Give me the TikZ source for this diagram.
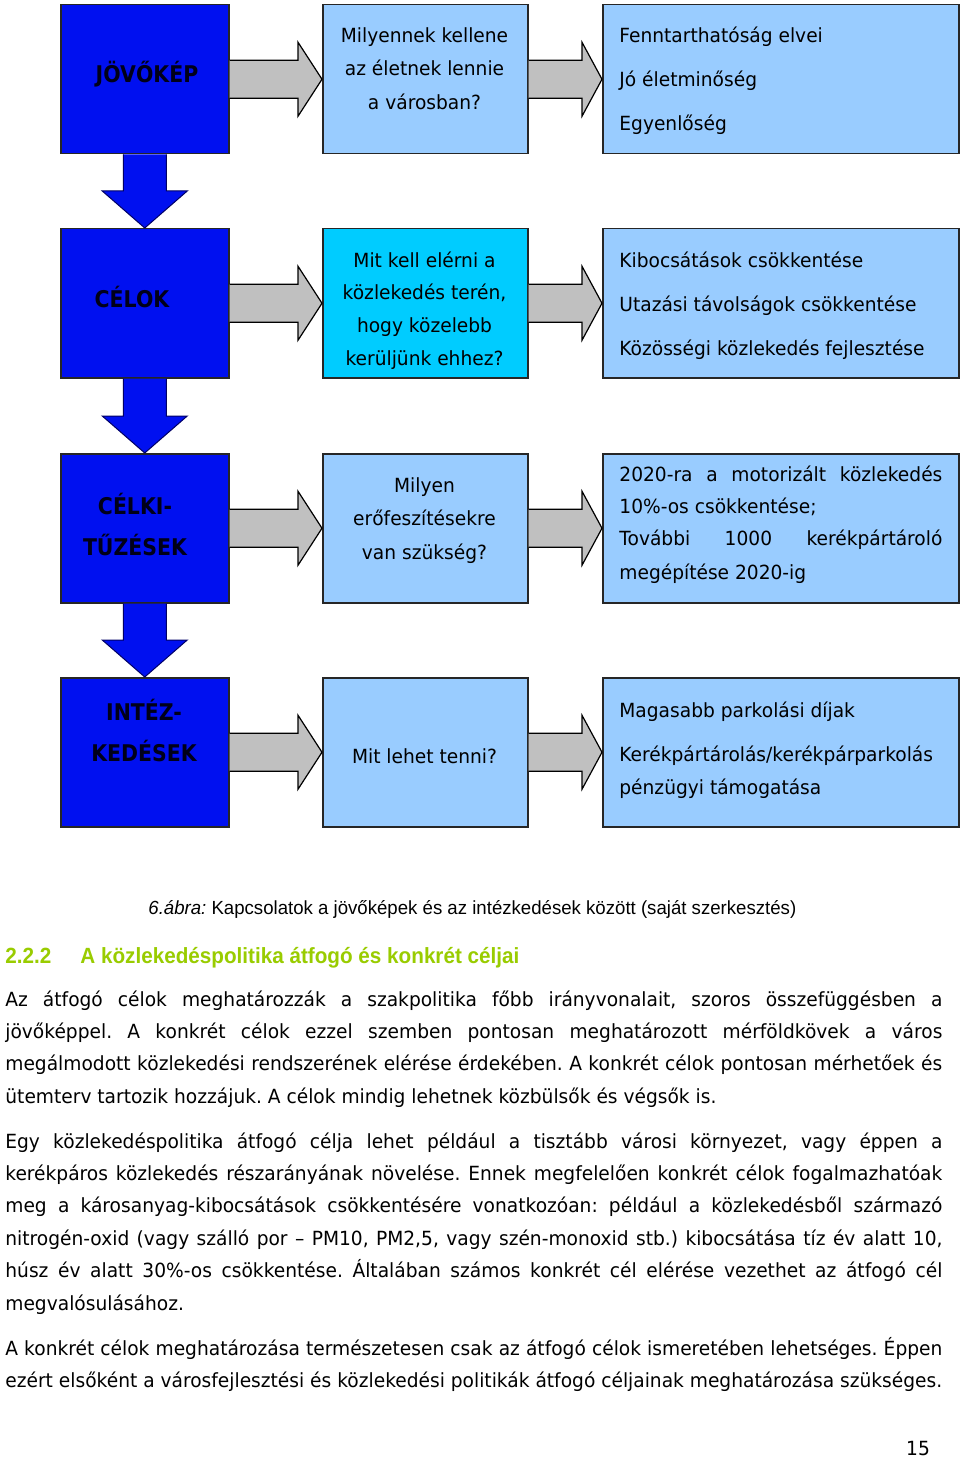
\documentclass[tikz,border=0pt]{standalone}
\usepackage{fontspec}
\usetikzlibrary{calc}
\newfontfamily\tah{DejaVu Sans}[FakeStretch=0.955]
\newfontfamily\tahb{DejaVu Sans}[FakeStretch=0.89]
\newfontfamily\ari{Liberation Sans}[FakeStretch=0.98]
\newfontfamily\arih{Liberation Sans}[FakeStretch=0.94]
\definecolor{dblue}{RGB}{0,16,240}
\definecolor{lblue}{RGB}{153,204,255}
\definecolor{cblue}{RGB}{0,204,255}
\definecolor{agray}{RGB}{192,192,192}
\definecolor{hgreen}{RGB}{153,204,0}
\newcommand\garr[3]{\filldraw[garrow] ($(#1.east)+(0,-19)$) -- ($(#2.west)+(-#3,-19)$) -- ($(#2.west)+(-#3,-37)$) -- (#2.west) -- ($(#2.west)+(-#3,37)$) -- ($(#2.west)+(-#3,19)$) -- ($(#1.east)+(0,19)$);}
\newcommand\darr[2]{\filldraw[barrow] ($(#1.south)+(-21.5,0)$) -- ($(#2.north)+(-21.5,-37)$) -- ($(#2.north)+(-42.5,-37)$) -- (#2.north) -- ($(#2.north)+(42.5,-37)$) -- ($(#2.north)+(21.5,-37)$) -- ($(#1.south)+(21.5,0)$);}
\newcommand\jl[2]{\makebox[#1][s]{#2}}
\frenchspacing
\begin{document}
\begin{tikzpicture}[x=0.5pt,y=-0.5pt,
  boxbase/.style={draw=black!85, line width=0.75pt, minimum height=74.5pt, inner sep=0pt, anchor=north west},
  lbox/.style={boxbase, fill=dblue, minimum width=84pt},
  mbox/.style={boxbase, fill=lblue, minimum width=102.5pt},
  rbox/.style={boxbase, fill=lblue, minimum width=178pt},
  garrow/.style={fill=agray, draw=black, line width=0.6pt, line join=miter},
  barrow/.style={fill=dblue, draw=black!60!blue, line width=0.5pt, line join=miter},
  txt/.style={font=\tah\fontsize{9.75}{11}\selectfont, inner sep=0pt},
  ctxt/.style={txt, anchor=base},
  wtxt/.style={txt, anchor=base west},
  ltxt/.style={font=\tahb\bfseries\fontsize{11.5}{13}\selectfont, inner sep=0pt, anchor=base, text=black!90!blue},
  captxt/.style={font=\ari\fontsize{9.5}{11}\selectfont, inner sep=0pt, anchor=base west},
  headtxt/.style={font=\arih\bfseries\fontsize{11}{12}\selectfont, inner sep=0pt, anchor=base west, text=hgreen}
]
\useasboundingbox (0,0) rectangle (960,1460);
\fill[white] (0,0) rectangle (960,1460);

% boxes
\node[lbox] (l1) at (60,4) {};
\node[mbox] (m1) at (322,4) {};
\node[rbox] (r1) at (602,4) {};
\node[lbox] (l2) at (60,228) {};
\node[mbox, fill=cblue] (m2) at (322,228) {};
\node[rbox] (r2) at (602,228) {};
\node[lbox] (l3) at (60,453) {};
\node[mbox] (m3) at (322,453) {};
\node[rbox] (r3) at (602,453) {};
\node[lbox] (l4) at (60,677) {};
\node[mbox] (m4) at (322,677) {};
\node[rbox] (r4) at (602,677) {};

% arrows
\garr{l1}{m1}{24}\garr{m1}{r1}{20}
\garr{l2}{m2}{24}\garr{m2}{r2}{20}
\garr{l3}{m3}{24}\garr{m3}{r3}{20}
\garr{l4}{m4}{24}\garr{m4}{r4}{20}
\darr{l1}{l2}\darr{l2}{l3}\darr{l3}{l4}

% left labels
\node[ltxt] (l1t) at (147,83) {JÖVŐKÉP};
\node[ltxt] (l2t) at (132,308) {CÉLOK};
\node[ltxt] (l3ta) at (135,514) {CÉLKI-};
\node[ltxt] (l3tb) at (135,555) {TŰZÉSEK};
\node[ltxt] (l4ta) at (144,720) {INTÉZ-};
\node[ltxt] (l4tb) at (144,761) {KEDÉSEK};

% middle column
\node[ctxt] (m1a) at (424.5,43) {Milyennek kellene};
\node[ctxt] (m1b) at (424.5,76) {az életnek lennie};
\node[ctxt] (m1c) at (424.5,110) {a városban?};
\node[ctxt] (m2a) at (424.5,268) {Mit kell elérni a};
\node[ctxt] (m2b) at (424.5,300) {közlekedés terén,};
\node[ctxt] (m2c) at (424.5,333) {hogy közelebb};
\node[ctxt] (m2d) at (424.5,365) {kerüljünk ehhez?};
\node[ctxt] (m3a) at (424.5,492) {Milyen};
\node[ctxt] (m3b) at (424.5,525) {erőfeszítésekre};
\node[ctxt] (m3c) at (424.5,559) {van szükség?};
\node[ctxt] (m4a) at (424.5,763) {Mit lehet tenni?};

% right column
\node[wtxt] (r1a) at (619,43) {Fenntarthatóság elvei};
\node[wtxt] (r1b) at (619,87) {Jó életminőség};
\node[wtxt] (r1c) at (619,131) {Egyenlőség};
\node[wtxt] (r2a) at (619,268) {Kibocsátások csökkentése};
\node[wtxt] (r2b) at (619,312) {Utazási távolságok csökkentése};
\node[wtxt] (r2c) at (619,356) {Közösségi közlekedés fejlesztése};
\node[wtxt] (r3a) at (619,481) {\jl{161.5pt}{2020-ra a motorizált közlekedés}};
\node[wtxt] (r3b) at (619,513) {10\%-os csökkentése;};
\node[wtxt] (r3c) at (619,545) {\jl{161.5pt}{További 1000 kerékpártároló}};
\node[wtxt] (r3d) at (619,579) {megépítése 2020-ig};
\node[wtxt] (r4a) at (619,717) {Magasabb parkolási díjak};
\node[wtxt] (r4b) at (619,761) {Kerékpártárolás/kerékpárparkolás};
\node[wtxt] (r4c) at (619,794) {pénzügyi támogatása};

% caption and heading
\node[captxt] (cap) at (148,914) {\textit{6.ábra:} Kapcsolatok a jövőképek és az intézkedések között (saját szerkesztés)};
\node[headtxt] (hnum) at (5,963) {2.2.2};
\node[headtxt] (htit) at (80,963) {A közlekedéspolitika átfogó és konkrét céljai};

% body
\node[wtxt] (p1a) at (5,1006) {\jl{468.5pt}{Az átfogó célok meghatározzák a szakpolitika főbb irányvonalait, szoros összefüggésben a}};
\node[wtxt] (p1b) at (5,1038) {\jl{468.5pt}{jövőképpel. A konkrét célok ezzel szemben pontosan meghatározott mérföldkövek a város}};
\node[wtxt] (p1c) at (5,1070) {\jl{468.5pt}{megálmodott közlekedési rendszerének elérése érdekében. A konkrét célok pontosan mérhetőek és}};
\node[wtxt] (p1d) at (5,1103) {ütemterv tartozik hozzájuk. A célok mindig lehetnek közbülsők és végsők is.};
\node[wtxt] (p2a) at (5,1148) {\jl{468.5pt}{Egy közlekedéspolitika átfogó célja lehet például a tisztább városi környezet, vagy éppen a}};
\node[wtxt] (p2b) at (5,1180) {\jl{468.5pt}{kerékpáros közlekedés részarányának növelése. Ennek megfelelően konkrét célok fogalmazhatóak}};
\node[wtxt] (p2c) at (5,1212) {\jl{468.5pt}{meg a károsanyag-kibocsátások csökkentésére vonatkozóan: például a közlekedésből származó}};
\node[wtxt] (p2d) at (5,1245) {\jl{468.5pt}{nitrogén-oxid (vagy szálló por – PM10, PM2,5, vagy szén-monoxid stb.) kibocsátása tíz év alatt 10,}};
\node[wtxt] (p2e) at (5,1277) {\jl{468.5pt}{húsz év alatt 30\%-os csökkentése. Általában számos konkrét cél elérése vezethet az átfogó cél}};
\node[wtxt] (p2f) at (5,1310) {megvalósulásához.};
\node[wtxt] (p3a) at (5,1355) {\jl{468.5pt}{A konkrét célok meghatározása természetesen csak az átfogó célok ismeretében lehetséges. Éppen}};
\node[wtxt] (p3b) at (5,1387) {ezért elsőként a városfejlesztési és közlekedési politikák átfogó céljainak meghatározása szükséges.};

\node[ctxt] (pg) at (918,1455) {15};
\end{tikzpicture}
\end{document}
